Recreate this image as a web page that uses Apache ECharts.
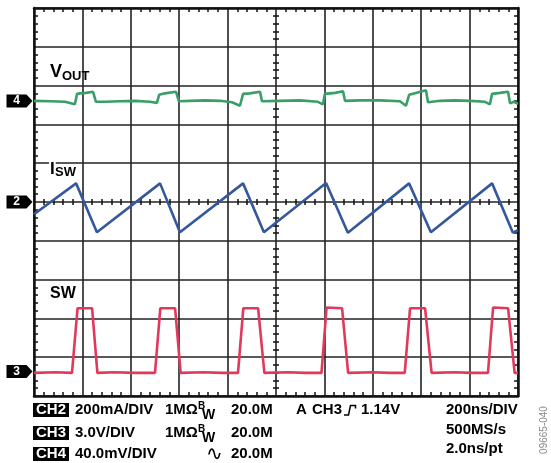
<!DOCTYPE html>
<html>
<head>
<meta charset="utf-8">
<script src="https://cdn.jsdelivr.net/npm/echarts@6/dist/echarts.min.js"></script>
<style>
html, body { margin: 0; padding: 0; background: #fff; }
#scope { width: 551px; height: 463px; }
</style>
</head>
<body>
<div id="scope"></div>
<script>
// 10 div x 200 ns time base, 10 vertical divisions
const timeMin = 0
const timeMax = 2000
const timeDiv = 200
const divMin = -5
const divMax = 5

// CH4 - V_OUT ripple (mV, 40 mV/div)
const vOutTime = [0, 66, 128, 169, 178, 190, 215, 244, 250, 256, 264, 293, 355, 417, 479, 508, 517, 541, 587, 593, 599, 645, 707, 769, 818, 851, 864, 892, 934, 942, 950, 1016, 1099, 1173, 1194, 1202, 1244, 1277, 1285, 1347, 1430, 1512, 1537, 1550, 1574, 1620, 1628, 1678, 1740, 1802, 1864, 1884, 1893, 1926, 1959, 1967, 1983, 2000]
const vOutMv = [0.3, -0.2, -0.7, -3.3, 7.5, 8.0, 8.5, 9.6, 9.1, -0.7, -2.3, -0.7, -0.2, 0.3, -0.7, -1.8, 6.5, 8.0, 9.6, 9.1, -0.2, 0.3, 0.8, 0.3, -1.2, -4.8, 7.5, 8.0, 9.6, -0.2, -0.7, 0.3, 0.8, -0.7, -3.3, 7.5, 8.5, 10.1, 0.3, 0.8, 0.8, -0.2, -4.8, 6.5, 8.0, 11.1, -1.2, 0.3, 0.8, 0.3, -0.7, -3.3, 7.5, 8.5, 9.6, -2.3, -0.7, -2.8]

// CH2 - I_SW (mA, 200 mA/div)
const iSwTime = [0, 174, 260, 521, 603, 864, 950, 1207, 1297, 1550, 1640, 1893, 1979, 2000]
const iSwMa = [-63, 96, -156, 96, -156, 96, -156, 98, -158, 96, -156, 96, -158, -145]

// CH3 - SW node (V, 3 V/div)
const swTime = [0, 90, 157, 180, 186, 240, 262, 330, 420, 500, 522, 528, 583, 606, 700, 780, 843, 865, 871, 926, 952, 1050, 1120, 1188, 1209, 1215, 1273, 1298, 1400, 1470, 1532, 1554, 1560, 1616, 1643, 1740, 1810, 1876, 1897, 1903, 1959, 1986, 2000]
const swVolt = [-0.1, -0.05, -0.1, 4.9, 5.0, 4.9, -0.1, -0.05, -0.1, -0.1, 4.9, 5.0, 4.9, -0.1, -0.05, -0.1, -0.1, 4.9, 5.0, 4.9, -0.1, -0.05, -0.1, -0.1, 4.95, 5.0, 4.9, -0.1, -0.05, -0.1, -0.1, 4.9, 5.0, 4.9, -0.1, -0.05, -0.1, -0.1, 4.95, 5.0, 4.9, -0.1, -0.1]

// channel ground markers (divisions from centre) and scale per div
const chLabel = ['4', '2', '3']
const chOffset = [2.6, 0, -4.37]
const chPerDiv = [40, 200, 3]
const chColor = ['#3a9e68', '#35589c', '#e2385c']

const font = '"Liberation Sans", Arial, sans-serif'

function toDiv(times, vals, ch) {
    return times.map((t, i) => [t, chOffset[ch] + vals[i] / chPerDiv[ch]])
}

function edgeAxis(extra) {
    return Object.assign({
        type: 'value',
        axisLine: { show: true, onZero: false, lineStyle: { color: '#111', width: 2.5 } },
        axisTick: { show: false, inside: true },
        minorTick: { show: true, splitNumber: 5, length: 4, lineStyle: { color: '#111', width: 1.5 } },
        axisLabel: { show: false },
        splitLine: { show: false }
    }, extra)
}

function centreAxis(extra, inside) {
    return Object.assign({
        type: 'value',
        axisLine: { show: false, onZero: false },
        axisTick: { show: false, inside: inside },
        minorTick: { show: true, splitNumber: 5, length: 3, lineStyle: { color: '#111', width: 1.5 } },
        axisLabel: { show: false },
        splitLine: { show: false }
    }, extra)
}

const xr = { min: timeMin, max: timeMax, interval: timeDiv }
const yr = { min: divMin, max: divMax, interval: 1 }
const gridLine = { show: true, lineStyle: { color: '#222', width: 1.6 } }

function marker(ch) {
    return {
        silent: true,
        symbol: 'path://M0,0 L20,0 L26,6.5 L20,13 L0,13 Z',
        symbolSize: [26, 13],
        symbolOffset: [-14.5, 0],
        itemStyle: { color: '#000' },
        label: {
            show: true, position: 'inside', formatter: chLabel[ch], offset: [-3, 0],
            color: '#fff', fontWeight: 'bold', fontSize: 12, fontFamily: font
        },
        data: [{ coord: [timeMin, chOffset[ch]] }]
    }
}

function trace(name, data, ch) {
    return {
        name: name,
        type: 'line',
        data: data,
        showSymbol: false,
        symbol: 'none',
        lineStyle: { color: chColor[ch], width: 2.6 },
        z: 5,
        markPoint: marker(ch)
    }
}

function txt(x, y, text, size, extra) {
    return {
        type: 'text', x: x, y: y, z: 100,
        style: Object.assign({
            text: text, font: 'bold ' + size + 'px ' + font, fill: '#000',
            align: 'left', textAlign: 'left', verticalAlign: 'middle', textVerticalAlign: 'middle'
        }, extra || {})
    }
}

function chBox(y, text) {
    return txt(33, y, text, 15, { fill: '#fff', backgroundColor: '#000', padding: [1, 3, 0, 3], lineHeight: 13 })
}

const chart = echarts.init(document.getElementById('scope'))
chart.setOption({
    animation: false,
    backgroundColor: '#fff',
    grid: { left: 34, top: 8, width: 484, height: 388 },
    xAxis: [
        edgeAxis(Object.assign({ position: 'bottom', splitLine: gridLine }, xr)),
        edgeAxis(Object.assign({ position: 'top' }, xr)),
        centreAxis(Object.assign({ position: 'bottom', offset: -194 }, xr), true),
        centreAxis(Object.assign({ position: 'bottom', offset: -194 }, xr), false)
    ],
    yAxis: [
        edgeAxis(Object.assign({ position: 'left', splitLine: gridLine }, yr)),
        edgeAxis(Object.assign({ position: 'right' }, yr)),
        centreAxis(Object.assign({ position: 'left', offset: -242 }, yr), true),
        centreAxis(Object.assign({ position: 'left', offset: -242 }, yr), false)
    ],
    series: [
        trace('VOUT', toDiv(vOutTime, vOutMv, 0), 0),
        trace('ISW', toDiv(iSwTime, iSwMa, 1), 1),
        trace('SW', toDiv(swTime, swVolt, 2), 2)
    ],
    graphic: [
        // trace names
        txt(50, 72, 'V', 18),
        txt(62, 76, 'OUT', 13),
        txt(49, 169, 'I', 17, { backgroundColor: '#fff', padding: [0, 1, 0, 1] }),
        txt(54, 172, 'SW', 13, { backgroundColor: '#fff', padding: [0, 2, 0, 1] }),
        txt(50, 294, 'SW', 16),
        // scope settings read-out
        chBox(410, 'CH2'),
        txt(75, 410, '200mA/DIV', 15),
        txt(165, 410, '1MΩ', 15),
        txt(198, 406, 'B', 10),
        txt(202, 415, 'W', 14),
        txt(231, 410, '20.0M', 15),
        txt(296, 410, 'A', 15),
        txt(312, 410, 'CH3', 15),
        {
            type: 'polyline', z: 100,
            shape: { points: [[344, 415], [348.5, 415], [350.5, 405.5], [355.5, 405.5], [355.5, 408.5]] },
            style: { stroke: '#000', lineWidth: 1.5, fill: null }
        },
        txt(361, 410, '1.14V', 15),
        txt(446, 410, '200ns/DIV', 15),
        chBox(433, 'CH3'),
        txt(75, 433, '3.0V/DIV', 15),
        txt(165, 433, '1MΩ', 15),
        txt(198, 429, 'B', 10),
        txt(202, 438, 'W', 14),
        txt(231, 433, '20.0M', 15),
        txt(446, 430, '500MS/s', 15),
        chBox(454, 'CH4'),
        txt(75, 454, '40.0mV/DIV', 15),
        txt(206, 455, '∿', 20, { font: '20px "DejaVu Sans", sans-serif' }),
        txt(231, 454, '20.0M', 15),
        txt(446, 449, '2.0ns/pt', 15),
        {
            type: 'text', x: 544, y: 430, rotation: Math.PI / 2, z: 100,
            style: {
                text: '09665-040', font: '10px ' + font, fill: '#888',
                align: 'center', textAlign: 'center', verticalAlign: 'middle', textVerticalAlign: 'middle'
            }
        }
    ]
})
</script>
</body>
</html>
